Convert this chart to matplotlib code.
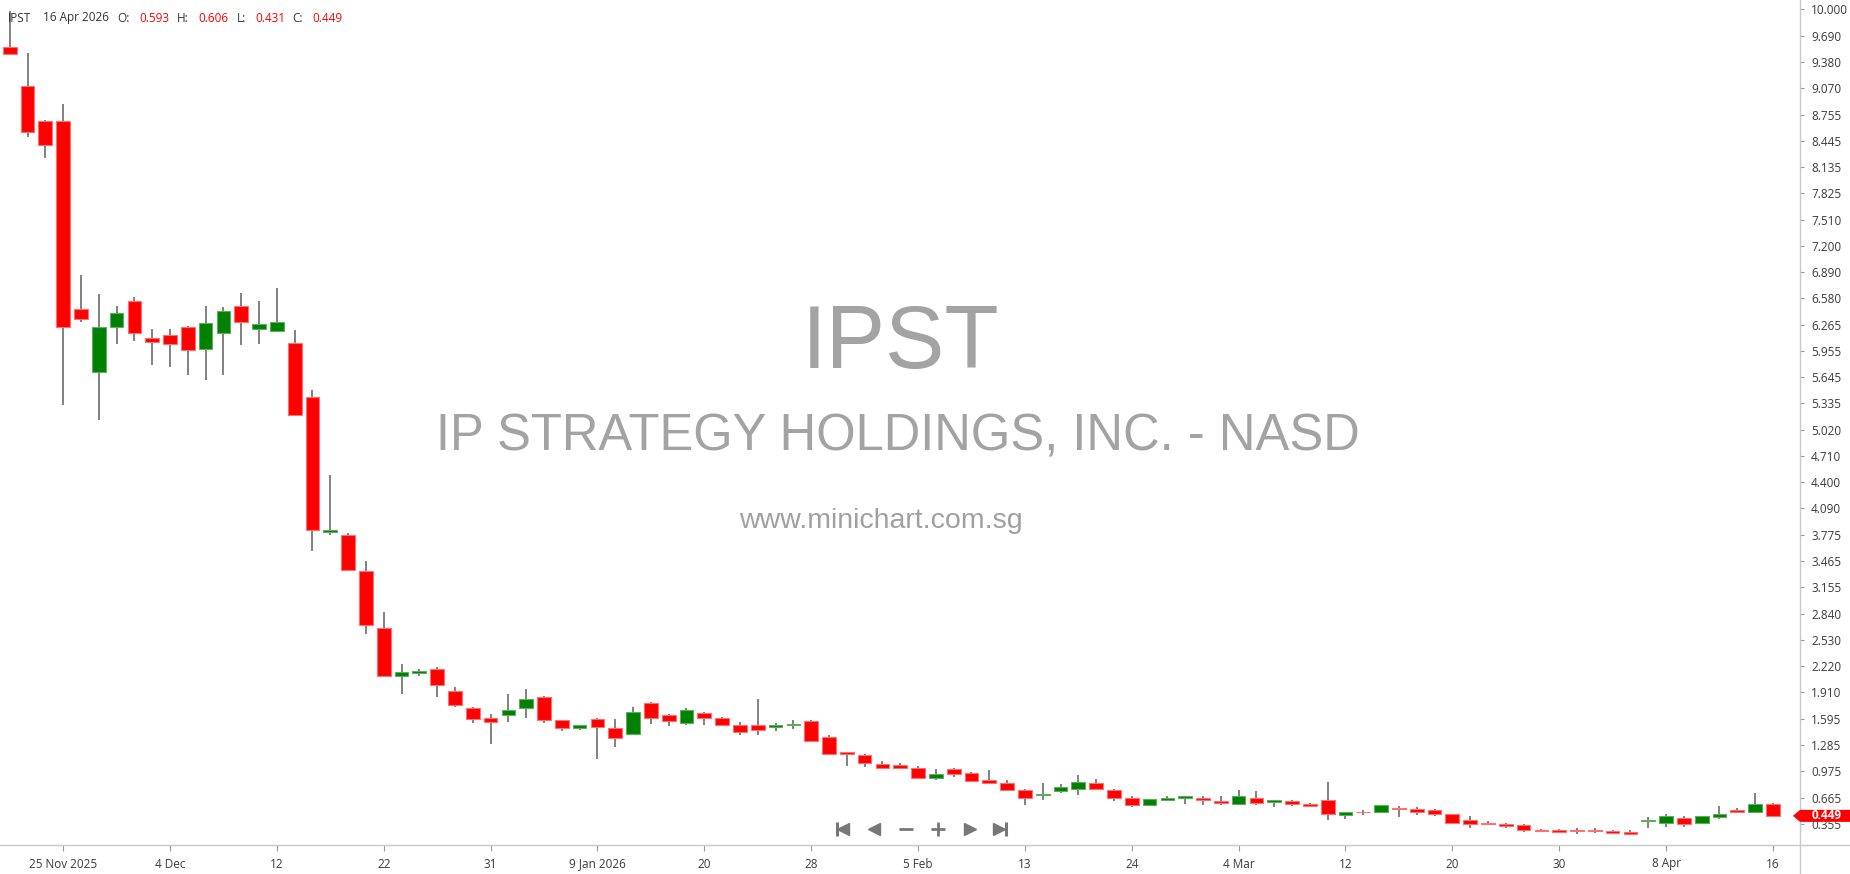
import matplotlib
matplotlib.use("Agg")
import matplotlib.pyplot as plt
from matplotlib.lines import Line2D
from matplotlib.patches import Polygon
from matplotlib.transforms import IdentityTransform
import pandas as pd

plt.rcParams['font.family'] = ['Open Sans', 'DejaVu Sans']

# ---------------- data ----------------
symbol = "IPST"
company = "IP STRATEGY HOLDINGS, INC. - NASD"
website = "www.minichart.com.sg"

holidays = ["2025-11-27", "2025-12-25", "2026-01-01", "2026-01-19", "2026-02-16", "2026-04-03"]
dates = [d for d in pd.bdate_range("2025-11-20", "2026-04-16") if d.strftime("%Y-%m-%d") not in holidays]

opens = [9.55, 9.09, 8.68, 8.68, 6.45, 5.71, 6.24, 6.55, 6.11, 6.14,
         6.24, 5.98, 6.17, 6.49, 6.22, 6.19, 6.05, 5.41, 3.815, 3.78,
         3.35, 2.67, 2.10, 2.14, 2.19, 1.93, 1.73, 1.61, 1.64, 1.73,
         1.86, 1.58, 1.49, 1.60, 1.49, 1.42, 1.79, 1.64, 1.55, 1.67,
         1.61, 1.52, 1.52, 1.50, 1.52, 1.57, 1.38, 1.20, 1.17, 1.06,
         1.05, 1.02, 0.90, 1.00, 0.96, 0.87, 0.84, 0.75, 0.70, 0.74,
         0.77, 0.84, 0.75, 0.665, 0.58, 0.64, 0.665, 0.665, 0.62, 0.59,
         0.665, 0.61, 0.62, 0.59, 0.64, 0.46, 0.50, 0.50, 0.545, 0.535,
         0.515, 0.47, 0.395, 0.37, 0.355, 0.335, 0.285, 0.28, 0.285, 0.285,
         0.265, 0.26, 0.385, 0.37, 0.425, 0.37, 0.44, 0.52, 0.49, 0.593]

highs = [9.98, 9.48, 8.69, 8.88, 6.86, 6.63, 6.49, 6.59, 6.21, 6.21,
         6.25, 6.49, 6.47, 6.64, 6.55, 6.70, 6.20, 5.49, 4.48, 3.80,
         3.47, 2.86, 2.25, 2.19, 2.21, 1.98, 1.74, 1.65, 1.89, 1.95,
         1.87, 1.59, 1.53, 1.61, 1.60, 1.74, 1.80, 1.65, 1.73, 1.68,
         1.62, 1.56, 1.83, 1.55, 1.58, 1.59, 1.41, 1.20, 1.18, 1.10,
         1.08, 1.04, 1.00, 1.02, 0.97, 0.99, 0.87, 0.77, 0.84, 0.83,
         0.93, 0.885, 0.77, 0.68, 0.65, 0.69, 0.685, 0.68, 0.68, 0.75,
         0.74, 0.635, 0.635, 0.60, 0.85, 0.49, 0.52, 0.575, 0.56, 0.55,
         0.53, 0.475, 0.45, 0.39, 0.365, 0.35, 0.295, 0.29, 0.30, 0.30,
         0.28, 0.28, 0.44, 0.47, 0.45, 0.45, 0.56, 0.545, 0.725, 0.606]

lows = [9.47, 8.49, 8.24, 5.32, 6.30, 5.14, 6.04, 6.07, 5.79, 5.76,
        5.67, 5.61, 5.67, 6.03, 6.04, 6.19, 5.19, 3.59, 3.77, 3.35,
        2.60, 2.10, 1.89, 2.10, 1.86, 1.74, 1.55, 1.30, 1.56, 1.61,
        1.55, 1.45, 1.47, 1.12, 1.26, 1.41, 1.54, 1.51, 1.52, 1.52,
        1.52, 1.41, 1.41, 1.45, 1.48, 1.33, 1.17, 1.04, 1.03, 1.00,
        1.01, 0.89, 0.87, 0.91, 0.86, 0.83, 0.755, 0.58, 0.64, 0.72,
        0.70, 0.75, 0.62, 0.55, 0.575, 0.62, 0.59, 0.575, 0.58, 0.59,
        0.575, 0.55, 0.56, 0.55, 0.40, 0.415, 0.46, 0.49, 0.43, 0.46,
        0.445, 0.355, 0.31, 0.34, 0.31, 0.255, 0.26, 0.25, 0.235, 0.25,
        0.24, 0.235, 0.31, 0.32, 0.32, 0.37, 0.41, 0.48, 0.49, 0.431]

closes = [9.47, 8.55, 8.39, 6.24, 6.33, 6.24, 6.40, 6.17, 6.06, 6.04,
          5.97, 6.29, 6.43, 6.30, 6.27, 6.30, 5.20, 3.83, 3.83, 3.36,
          2.71, 2.10, 2.15, 2.16, 2.00, 1.76, 1.60, 1.56, 1.70, 1.83,
          1.58, 1.49, 1.52, 1.50, 1.37, 1.68, 1.61, 1.57, 1.70, 1.61,
          1.53, 1.44, 1.47, 1.52, 1.54, 1.33, 1.18, 1.18, 1.08, 1.02,
          1.01, 0.90, 0.945, 0.945, 0.86, 0.84, 0.755, 0.66, 0.71, 0.795,
          0.855, 0.77, 0.665, 0.58, 0.65, 0.665, 0.68, 0.64, 0.605, 0.68,
          0.605, 0.635, 0.595, 0.56, 0.475, 0.49, 0.49, 0.575, 0.53, 0.50,
          0.475, 0.37, 0.355, 0.355, 0.325, 0.28, 0.265, 0.255, 0.265, 0.265,
          0.25, 0.235, 0.395, 0.45, 0.355, 0.45, 0.475, 0.50, 0.59, 0.449]

ytick_labels = ["10.000", "9.690", "9.380", "9.070", "8.755", "8.445", "8.135", "7.825",
                "7.510", "7.200", "6.890", "6.580", "6.265", "5.955", "5.645", "5.335",
                "5.020", "4.710", "4.400", "4.090", "3.775", "3.465", "3.155", "2.840",
                "2.530", "2.220", "1.910", "1.595", "1.285", "0.975", "0.665", "0.355"]

xtick_dates = ["2025-11-25", "2025-12-04", "2025-12-12", "2025-12-22", "2025-12-31",
               "2026-01-09", "2026-01-20", "2026-01-28", "2026-02-05", "2026-02-13",
               "2026-02-24", "2026-03-04", "2026-03-12", "2026-03-20", "2026-03-30",
               "2026-04-08", "2026-04-16"]
xtick_labels = ["25 Nov 2025", "4 Dec", "12", "22", "31", "9 Jan 2026", "20", "28", "5 Feb",
                "13", "24", "4 Mar", "12", "20", "30", "8 Apr", "16"]

# ---------------- figure ----------------
W, H = 1850, 874
fig = plt.figure(figsize=(W / 100, H / 100), dpi=100)
fig.patch.set_facecolor("white")
ax = fig.add_axes([0, (H - 845) / H, 1800 / W, 845 / H])

RED = "#ff0000"
GREEN = "#008000"
xs = list(range(len(dates)))
colors = [GREEN if c > o else RED for o, c in zip(opens, closes)]
edges = ["#5fae5f" if c > o else "#ff7070" for o, c in zip(opens, closes)]
bottoms = [min(o, c) for o, c in zip(opens, closes)]
heights = [abs(c - o) for o, c in zip(opens, closes)]

ax.vlines(xs, lows, highs, color="#777777", linewidth=1.3, zorder=1)
ax.bar(xs, heights, bottom=bottoms, width=0.77, color=colors, edgecolor=edges,
       linewidth=0.8, zorder=2)

ax.set_xlim(-0.545, 100.52)
ax.set_ylim(0.104, 10.111)

for s in ax.spines.values():
    s.set_visible(False)

ax.yaxis.tick_right()
ax.set_yticks([float(t) for t in ytick_labels])
ax.set_yticklabels(ytick_labels)
ax.tick_params(axis="y", length=3, width=0.8, color="#9a9a9a", pad=5,
               labelsize=8.5, labelcolor="#3a3a3a")

date_strs = [d.strftime("%Y-%m-%d") for d in dates]
ax.set_xticks([date_strs.index(d) for d in xtick_dates])
ax.set_xticklabels(xtick_labels)
ax.tick_params(axis="x", length=4, width=0.8, color="#9a9a9a", pad=5,
               labelsize=8.5, labelcolor="#3a3a3a")

# axis frame lines
fig.add_artist(Line2D([0, 1], [(H - 845) / H] * 2, transform=fig.transFigure,
                      color="#c8c8c8", linewidth=1.0))
fig.add_artist(Line2D([1800 / W] * 2, [0, 1], transform=fig.transFigure,
                      color="#c8c8c8", linewidth=1.0))

# watermark
wm_fam = ["Liberation Sans", "DejaVu Sans"]
fig.text(900.5 / W, 1 - 368 / H, symbol, ha="center", va="baseline", fontsize=64,
         color="#a3a3a3", family=wm_fam, zorder=0)
fig.text(897.5 / W, 1 - 451 / H, company, ha="center", va="baseline", fontsize=36.5,
         color="#a3a3a3", family=wm_fam, zorder=0)
fig.text(880.5 / W, 1 - 528 / H, website, ha="center", va="baseline", fontsize=20.5,
         color="#a0a0a0", family=wm_fam, zorder=0)

# header
hy = 1 - 18 / H
last_date = dates[-1]
header = [
    (symbol, 8, "#333333"),
    (f"{last_date.day} {last_date.strftime('%b %Y')}", 43, "#333333"),
    ("O:", 117, "#333333"), (f"{opens[-1]:.3f}", 139, RED),
    ("H:", 177, "#333333"), (f"{highs[-1]:.3f}", 198, RED),
    ("L:", 237, "#333333"), (f"{lows[-1]:.3f}", 255, RED),
    ("C:", 292, "#333333"), (f"{closes[-1]:.3f}", 312, RED),
]
for txt, px, col in header:
    fig.text(px / W, hy, txt, ha="left", va="center", fontsize=8.5, color=col)

# navigation buttons
ny = 1 - 829 / H
navc = "#777777"
def mk(px, marker, size, mew=1.0):
    fig.add_artist(Line2D([px / W], [ny], transform=fig.transFigure, marker=marker,
                          markersize=size, color=navc, markeredgecolor=navc,
                          markeredgewidth=mew, linestyle="none"))
mk(836.5, "|", 10, 2.2); mk(843, "<", 8)
mk(874, "<", 8)
mk(906, "_", 10, 2.0)
mk(938, "+", 10, 2.0)
mk(970, ">", 8)
mk(999, ">", 8); mk(1005.5, "|", 10, 2.2)

# last-price tag
yc = ax.transData.transform((0, closes[-1]))[1]
tag = Polygon([(1793, yc), (1800, yc + 6), (1850, yc + 6), (1850, yc - 6), (1800, yc - 6)],
              closed=True, transform=IdentityTransform(), facecolor=RED, edgecolor="none",
              zorder=10)
fig.add_artist(tag)
fig.text(1827, yc, f"{closes[-1]:.3f}", transform=IdentityTransform(), ha="center",
         va="center", fontsize=8.5, color="white", fontweight="bold", zorder=11)

fig.savefig("out.png", dpi=100)
